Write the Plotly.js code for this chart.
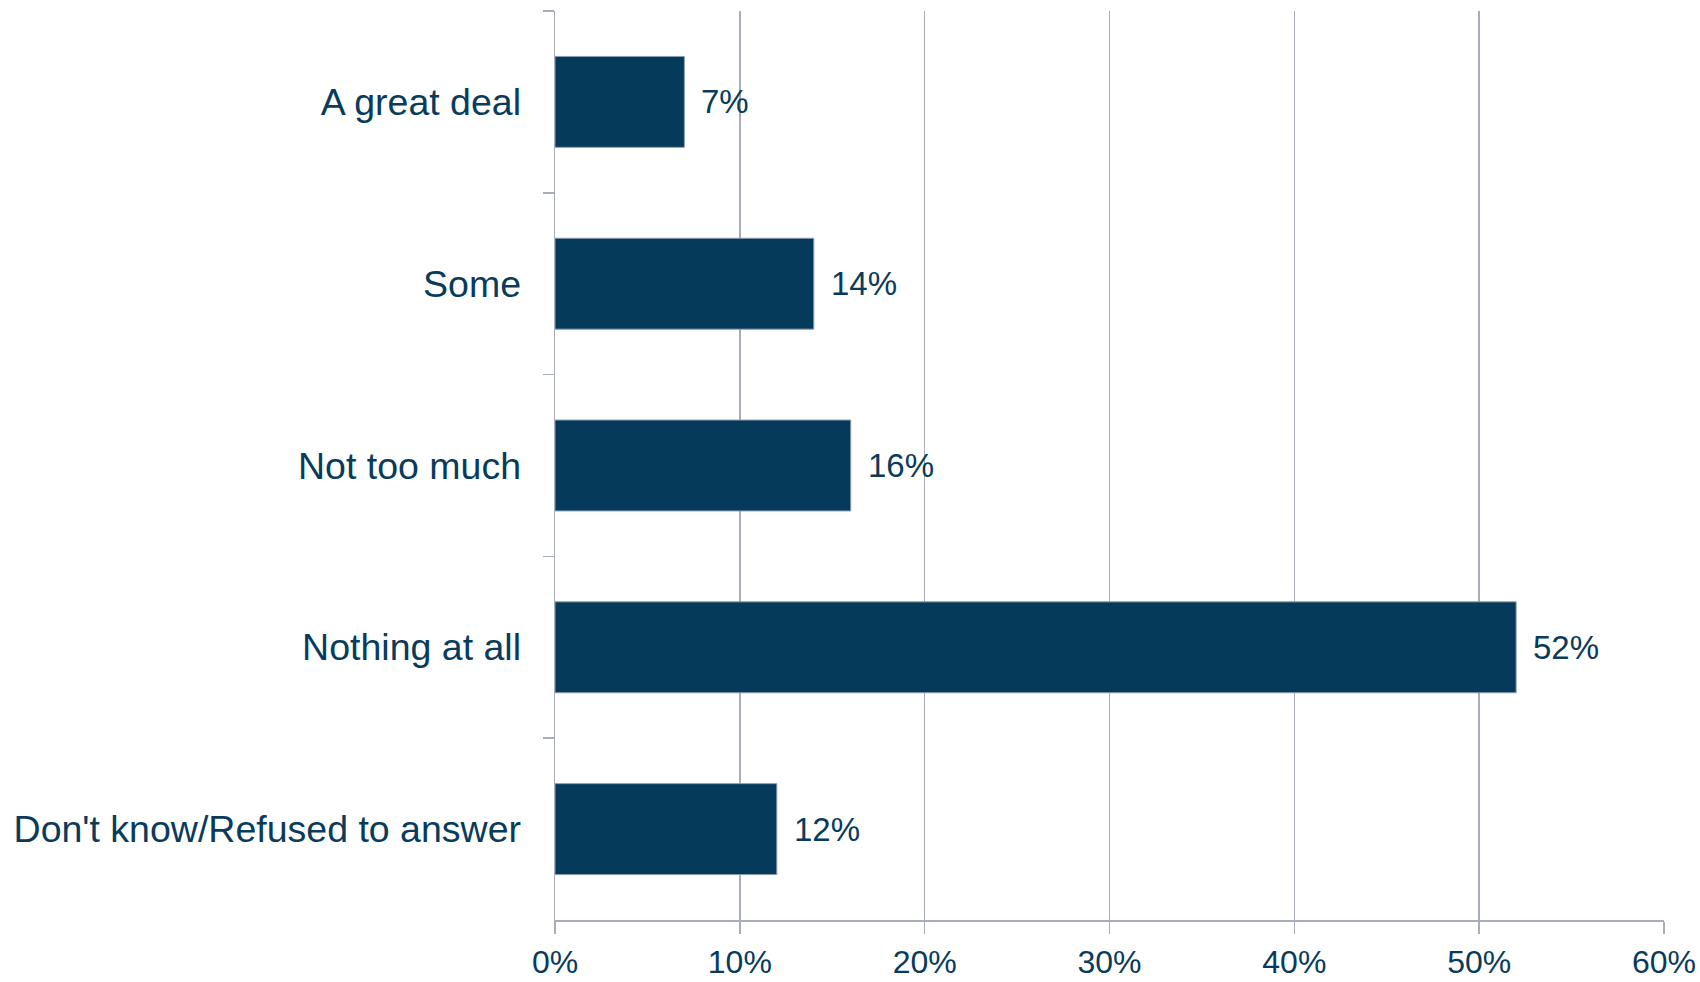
<!DOCTYPE html>
<html>
<head>
<meta charset="utf-8">
<script src="https://cdn.plot.ly/plotly-3.0.1.min.js"></script>
<style>
  html, body { margin: 0; padding: 0; background: #ffffff; }
  #chart { width: 1700px; height: 982px; }
</style>
</head>
<body>
<div id="chart"></div>
<script>
const categories = ["A great deal", "Some", "Not too much", "Nothing at all", "Don't know/Refused to answer"];
const values = [7, 14, 16, 52, 12];
const xTickVals = [0, 10, 20, 30, 40, 50, 60];
const xTickText = ["0%", "10%", "20%", "30%", "40%", "50%", "60%"];

const navy = "#053A5B";
const textColor = "#083B5C";
const gridColor = "#A9ADB9";
const fontFamily = "Liberation Sans, Arial, sans-serif";

const trace = {
  type: "bar",
  orientation: "h",
  x: values,
  y: categories,
  width: 0.5,
  marker: { color: navy, line: { color: "#8A9CB0", width: 1 } },
  hoverinfo: "skip"
};

const annotations = values.map((v, i) => ({
  x: v,
  y: categories[i],
  xref: "x",
  yref: "y",
  text: v + "%",
  showarrow: false,
  xanchor: "left",
  yanchor: "middle",
  xshift: 15,
  font: { family: fontFamily, size: 33, color: textColor }
}));

const layout = {
  width: 1700,
  height: 982,
  margin: { l: 555, r: 36, t: 11, b: 62 },
  paper_bgcolor: "#ffffff",
  plot_bgcolor: "#ffffff",
  showlegend: false,
  font: { family: fontFamily, color: textColor },
  xaxis: {
    range: [0, 60],
    tickvals: xTickVals,
    ticktext: xTickText,
    showgrid: true,
    gridcolor: gridColor,
    gridwidth: 1.5,
    zeroline: false,
    showline: true,
    linecolor: gridColor,
    linewidth: 2,
    ticks: "outside",
    ticklen: 12,
    tickwidth: 1.5,
    tickcolor: gridColor,
    ticklabelstandoff: 1,
    tickfont: { family: fontFamily, size: 32, color: textColor },
    fixedrange: true
  },
  yaxis: {
    type: "category",
    categoryorder: "array",
    categoryarray: categories,
    autorange: "reversed",
    showgrid: false,
    zeroline: false,
    showline: true,
    linecolor: gridColor,
    linewidth: 1.5,
    ticks: "outside",
    tickson: "boundaries",
    ticklen: 11,
    tickwidth: 1.5,
    tickcolor: gridColor,
    ticklabelstandoff: 25,
    tickfont: { family: fontFamily, size: 37.5, color: textColor },
    fixedrange: true
  },
  annotations: annotations
};

Plotly.newPlot("chart", [trace], layout, { displayModeBar: false, staticPlot: true });
</script>
</body>
</html>
